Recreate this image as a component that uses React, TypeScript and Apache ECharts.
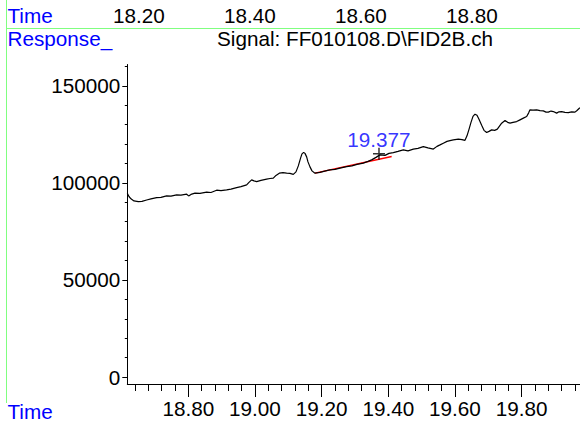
import React, { useEffect, useRef } from "react";
import * as echarts from "echarts";

// Trace: retention time (min) and detector response
const times = [
  18.617, 18.622, 18.628, 18.637, 18.65, 18.661, 18.675, 18.688, 18.705, 18.718,
  18.735, 18.748, 18.765, 18.778, 18.795, 18.801, 18.808, 18.82, 18.835, 18.855,
  18.868, 18.885, 18.898, 18.915, 18.928, 18.945, 18.958, 18.975, 18.982, 18.99,
  18.997, 19.005, 19.018, 19.035, 19.045, 19.055, 19.063, 19.073, 19.084, 19.095,
  19.105, 19.115, 19.123, 19.13, 19.137, 19.141, 19.146, 19.15, 19.155, 19.159,
  19.165, 19.171, 19.18, 19.195, 19.215, 19.225, 19.24, 19.255, 19.275, 19.291,
  19.306, 19.325, 19.339, 19.35, 19.363, 19.375, 19.39, 19.402, 19.415, 19.429,
  19.445, 19.459, 19.475, 19.489, 19.505, 19.519, 19.535, 19.546, 19.555, 19.565,
  19.576, 19.585, 19.595, 19.61, 19.621, 19.63, 19.636, 19.642, 19.648, 19.654,
  19.66, 19.666, 19.672, 19.68, 19.687, 19.695, 19.702, 19.71, 19.719, 19.727,
  19.734, 19.74, 19.75, 19.758, 19.765, 19.774, 19.785, 19.795, 19.805, 19.815,
  19.821, 19.825, 19.834, 19.845, 19.855, 19.865, 19.873, 19.88, 19.888, 19.895,
  19.905, 19.912, 19.92, 19.93, 19.94, 19.95, 19.96, 19.966, 19.973, 19.975,
];
const responses = [
  94600, 93000, 91800, 90700, 90400, 90500, 91200, 91760, 92400, 92530,
  93300, 93150, 93820, 93700, 94180, 93300, 94080, 94700, 94600, 95210,
  95060, 96240, 95990, 96400, 96810, 97580, 98050, 98980, 100270, 101550,
  101040, 100680, 101300, 101920, 102280, 102430, 103870, 105010, 105260, 105010,
  104900, 104390, 105680, 108770, 112890, 114950, 115730, 115210, 113410, 110830,
  108250, 106190, 105010, 105420, 106350, 106710, 106960, 107640, 108410, 108770,
  109540, 110160, 111090, 111860, 113150, 114440, 114180, 115210, 115620, 116240,
  117020, 116500, 117380, 117790, 118720, 118050, 117430, 118820, 119590, 120470,
  121400, 121810, 122170, 122530, 122270, 121920, 124240, 127590, 131200, 134290,
  135420, 134800, 132740, 129650, 127070, 125940, 126550, 127330, 127070, 127690,
  129390, 130780, 132120, 131190, 130780, 131190, 131600, 132480, 133360, 134180,
  136090, 137640, 137480, 137640, 137220, 137120, 136450, 136450, 137020, 136760,
  135940, 136610, 136760, 136350, 136250, 136610, 136450, 137320, 138450, 138670,
];

// Integration baseline (red) under the labelled peak
const baselineTimes = [19.18, 19.41];
const baselineResponses = [105000, 113600];

// Labelled peak
const peakTimes = [19.372];
const peakResponses = [115000];
const peakLabels = ["19.377"];

// Axis ticks
const bottomTicks = [18.8, 19.0, 19.2, 19.4, 19.6, 19.8];
const bottomMinorTicks = [
  18.64, 18.68, 18.72, 18.76, 18.8, 18.84, 18.88, 18.92, 18.96, 19.0, 19.04, 19.08,
  19.12, 19.16, 19.2, 19.24, 19.28, 19.32, 19.36, 19.4, 19.44, 19.48, 19.52, 19.56,
  19.6, 19.64, 19.68, 19.72, 19.76, 19.8, 19.84, 19.88, 19.92, 19.96,
];
const topTicks = [18.2, 18.4, 18.6, 18.8];
const yTicks = [0, 50000, 100000, 150000];
const yMinorTicks = [
  10000, 20000, 30000, 40000, 60000, 70000, 80000, 90000, 110000, 120000, 130000,
  140000, 160000,
];

const FONT = "'Liberation Sans', Arial, sans-serif";
const FS = 20.7;
const BLUE = "#0000ff";
const GREEN = "#80ff80";

export default function App() {
  const ref = useRef<HTMLDivElement>(null);

  useEffect(() => {
    if (!ref.current) return;
    const chart = echarts.init(ref.current, undefined, { renderer: "svg" });

    const xMin = 18.617;
    const xMax = 19.975;
    const yMin = -3600;
    const yMax = 161000;
    const plotGrid = { left: 127.3, right: 0, top: 64.5, bottom: 39 };

    const option: any = {
      animation: false,
      backgroundColor: "#ffffff",
      grid: [
        { ...plotGrid },
        { left: 127.3, right: 0, top: 4, height: 1 },
        { ...plotGrid },
      ],
      xAxis: [
        {
          type: "value",
          gridIndex: 0,
          min: xMin,
          max: xMax,
          position: "bottom",
          axisLine: { show: true, onZero: false, lineStyle: { color: "#000", width: 1 } },
          axisTick: {
            show: true,
            length: 13,
            customValues: bottomTicks,
            lineStyle: { color: "#000", width: 1 },
          },
          axisLabel: {
            show: true,
            customValues: bottomTicks,
            formatter: (v: number) => v.toFixed(2),
            margin: 24,
            verticalAlign: "middle",
            fontSize: FS,
            color: "#000",
            fontFamily: FONT,
          },
          splitLine: { show: false },
        },
        {
          type: "value",
          gridIndex: 1,
          min: 18.179,
          max: 18.995,
          position: "bottom",
          axisLine: { show: false },
          axisTick: { show: false },
          axisLabel: {
            show: true,
            customValues: topTicks,
            formatter: (v: number) => v.toFixed(2),
            margin: 10,
            verticalAlign: "middle",
            fontSize: FS,
            color: "#000",
            fontFamily: FONT,
          },
          splitLine: { show: false },
        },
        {
          type: "value",
          gridIndex: 2,
          min: xMin,
          max: xMax,
          position: "bottom",
          axisLine: { show: false, onZero: false },
          axisTick: {
            show: true,
            length: 7,
            customValues: bottomMinorTicks,
            lineStyle: { color: "#000", width: 1 },
          },
          axisLabel: { show: false },
          splitLine: { show: false },
        },
      ],
      yAxis: [
        {
          type: "value",
          gridIndex: 0,
          min: yMin,
          max: yMax,
          axisLine: { show: true, onZero: false, lineStyle: { color: "#000", width: 1 } },
          axisTick: {
            show: true,
            length: 5,
            customValues: yTicks,
            lineStyle: { color: "#000", width: 1 },
          },
          axisLabel: {
            show: true,
            customValues: yTicks,
            formatter: (v: number) => String(v),
            margin: 7,
            fontSize: FS,
            color: "#000",
            fontFamily: FONT,
          },
          splitLine: { show: false },
        },
        {
          type: "value",
          gridIndex: 1,
          show: false,
        },
        {
          type: "value",
          gridIndex: 2,
          min: yMin,
          max: yMax,
          axisLine: { show: false, onZero: false },
          axisTick: {
            show: true,
            length: 2.5,
            customValues: yMinorTicks,
            lineStyle: { color: "#000", width: 1 },
          },
          axisLabel: { show: false },
          splitLine: { show: false },
        },
      ],
      series: [
        {
          type: "line",
          name: "baseline",
          xAxisIndex: 0,
          yAxisIndex: 0,
          data: baselineTimes.map((t, i) => [t, baselineResponses[i]]),
          showSymbol: false,
          lineStyle: { color: "#ff0000", width: 1.3 },
          z: 2,
        },
        {
          type: "line",
          name: "FID2B",
          xAxisIndex: 0,
          yAxisIndex: 0,
          data: times.map((t, i) => [t, responses[i]]),
          showSymbol: false,
          lineStyle: { color: "#000", width: 1.2 },
          z: 3,
        },
        {
          type: "scatter",
          name: "peak",
          xAxisIndex: 0,
          yAxisIndex: 0,
          data: peakTimes.map((t, i) => [t, peakResponses[i]]),
          symbol: "path://M6,0L6,12M0,6L12,6",
          symbolSize: 12,
          itemStyle: { color: "transparent", borderColor: "#000", borderWidth: 1.5 },
          label: {
            show: true,
            position: "top",
            distance: -3,
            formatter: (p: any) => peakLabels[p.dataIndex],
            color: BLUE,
            fontSize: FS,
            fontFamily: FONT,
          },
          z: 4,
        },
      ],
      graphic: [
        {
          type: "line",
          silent: true,
          shape: { x1: 6.5, y1: 0, x2: 6.5, y2: 403 },
          style: { stroke: GREEN, lineWidth: 1 },
        },
        {
          type: "line",
          silent: true,
          shape: { x1: 6.5, y1: 28.5, x2: 580, y2: 28.5 },
          style: { stroke: GREEN, lineWidth: 1 },
        },
        {
          type: "text",
          silent: true,
          x: 7.5,
          y: 15,
          style: { text: "Time", fill: BLUE, fontSize: FS, fontFamily: FONT, verticalAlign: "middle" },
        },
        {
          type: "text",
          silent: true,
          x: 7.5,
          y: 38.5,
          style: { text: "Response_", fill: BLUE, fontSize: FS, fontFamily: FONT, verticalAlign: "middle" },
        },
        {
          type: "text",
          silent: true,
          x: 355,
          y: 38.5,
          style: {
            text: "Signal: FF010108.D\\FID2B.ch",
            fill: "#000",
            fontSize: FS,
            fontFamily: FONT,
            align: "center",
            verticalAlign: "middle",
          },
        },
        {
          type: "text",
          silent: true,
          x: 7.5,
          y: 411.5,
          style: { text: "Time", fill: BLUE, fontSize: FS, fontFamily: FONT, verticalAlign: "middle" },
        },
      ],
    };

    chart.setOption(option);
    return () => {
      chart.dispose();
    };
  }, []);

  return (
    <div
      ref={ref}
      style={{ position: "fixed", left: 0, top: 0, width: 580, height: 423, background: "#fff" }}
    />
  );
}
